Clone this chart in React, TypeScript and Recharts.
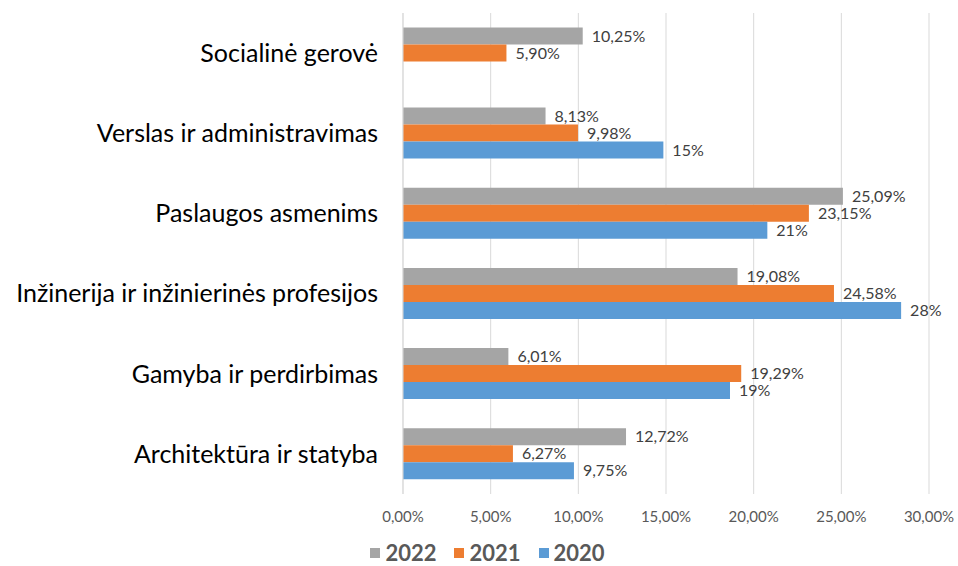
import { BarChart, Bar, XAxis, YAxis, CartesianGrid, LabelList, Legend } from "recharts";

const categories = [
    "Socialinė gerovė",
    "Verslas ir administravimas",
    "Paslaugos asmenims",
    "Inžinerija ir inžinierinės profesijos",
    "Gamyba ir perdirbimas",
    "Architektūra ir statyba",
];

const values2022 = [10.25, 8.13, 25.09, 19.08, 6.01, 12.72];
const values2021 = [5.9, 9.98, 23.15, 24.58, 19.29, 6.27];
const values2020 = [null, 14.85, 20.78, 28.41, 18.65, 9.75];

const labels2022 = ["10,25%", "8,13%", "25,09%", "19,08%", "6,01%", "12,72%"];
const labels2021 = ["5,90%", "9,98%", "23,15%", "24,58%", "19,29%", "6,27%"];
const labels2020 = [null, "15%", "21%", "28%", "19%", "9,75%"];

const xTicks = [0, 5, 10, 15, 20, 25, 30];

const SERIES = [
    { key: "v2022", label: "l2022", name: "2022", color: "#A5A5A5" },
    { key: "v2021", label: "l2021", name: "2021", color: "#ED7D31" },
    { key: "v2020", label: "l2020", name: "2020", color: "#5B9BD5" },
];

const data = categories.map((name, i) => ({
    name,
    v2022: values2022[i],
    v2021: values2021[i],
    v2020: values2020[i],
    l2022: labels2022[i],
    l2021: labels2021[i],
    l2020: labels2020[i],
}));

const FONT = "Lato, 'Open Sans', sans-serif";

const renderLegend = () => (
    <div
        style={{
            display: "flex",
            justifyContent: "center",
            alignItems: "center",
            gap: 18,
            fontFamily: FONT,
            fontWeight: 700,
            fontSize: 22,
            lineHeight: 1,
            color: "#595959",
            height: 26,
            paddingLeft: 46,
        }}
    >
        {SERIES.map((s) => (
            <div key={s.key} style={{ display: "flex", alignItems: "center", gap: 5 }}>
                <span style={{ width: 10, height: 10, background: s.color, display: "inline-block" }} />
                <span>{s.name}</span>
            </div>
        ))}
    </div>
);

export default function App() {
    return (
        <div style={{ position: "absolute", left: 0, top: 0, background: "#fff" }}>
            <BarChart
                width={958}
                height={566}
                data={data}
                layout="vertical"
                margin={{ top: 13, right: 29, bottom: 0, left: 0 }}
                barCategoryGap="18%"
                barGap={0}
            >
                <CartesianGrid horizontal={false} stroke="#D9D9D9" />
                <XAxis
                    type="number"
                    domain={[0, 30]}
                    ticks={xTicks}
                    tickFormatter={(v: number) => `${v.toFixed(2).replace(".", ",")}%`}
                    axisLine={false}
                    tickLine={false}
                    tickSize={0}
                    tickMargin={17}
                    height={46}
                    tick={{ fill: "#595959", fontSize: 15, fontFamily: FONT }}
                />
                <YAxis
                    type="category"
                    dataKey="name"
                    width={403}
                    axisLine={{ stroke: "#D9D9D9" }}
                    tickLine={false}
                    tickSize={0}
                    tickMargin={25}
                    tick={{ fill: "#000", fontSize: 25, fontFamily: FONT }}
                />
                <Legend verticalAlign="bottom" content={renderLegend} height={26} />
                {SERIES.map((s) => (
                    <Bar key={s.key} dataKey={s.key} name={s.name} fill={s.color} isAnimationActive={false}>
                        <LabelList
                            dataKey={s.label}
                            position="right"
                            offset={9}
                            fill="#404040"
                            fontSize={16}
                            fontFamily={FONT}
                        />
                    </Bar>
                ))}
            </BarChart>
        </div>
    );
}
